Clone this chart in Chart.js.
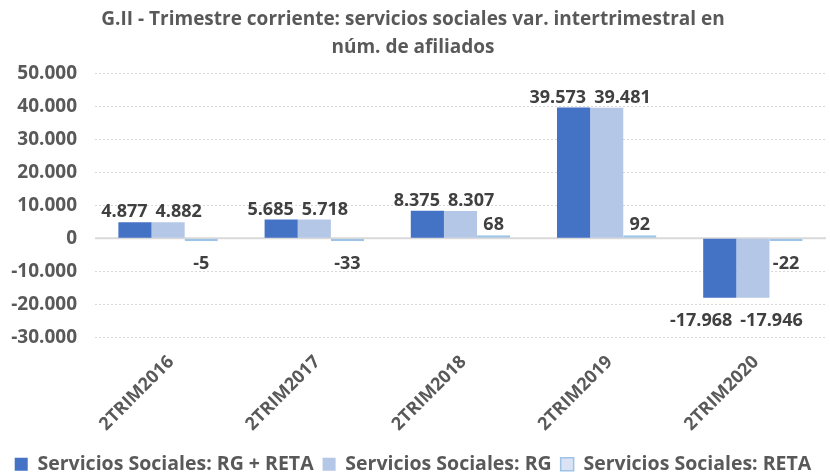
<!DOCTYPE html>
<html lang="es">
<head>
  <meta charset="UTF-8" />
  <title>Servicios sociales var. intertrimestral</title>
  <script src="https://cdn.jsdelivr.net/npm/chart.js"></script>
  <style>
    * { box-sizing: border-box; }
    html, body { margin: 0; padding: 0; background: #ffffff; }
    .chart-box { width: 830px; height: 476px; position: relative; }
  </style>
</head>
<body>
  <div class="chart-box">
    <canvas id="afiliados"></canvas>
  </div>

  <script>
    // Datos
    const trimestres = ['2TRIM2016', '2TRIM2017', '2TRIM2018', '2TRIM2019', '2TRIM2020'];
    const rgReta = [4877, 5685, 8375, 39573, -17968];
    const rg = [4882, 5718, 8307, 39481, -17946];
    const reta = [-5, -33, 68, 92, -22];
    const serieNombres = ['Servicios Sociales: RG + RETA', 'Servicios Sociales: RG', 'Servicios Sociales: RETA'];

    const gris = '#595959';
    const fuente = "'Open Sans', 'DejaVu Sans', sans-serif";

    // formato con punto de miles
    function miles(v) {
      const s = Math.abs(v).toString().replace(/\B(?=(\d{3})+(?!\d))/g, '.');
      return (v < 0 ? '-' : '') + s;
    }

    // etiquetas de valor encima / debajo de cada barra,
    // separadas en horizontal si se pisan (como hace Excel)
    const etiquetas = {
      id: 'etiquetas',
      afterDatasetsDraw(chart) {
        const ctx = chart.ctx;
        const alto = 18;
        ctx.save();
        ctx.font = 'bold 18px ' + fuente;
        ctx.fillStyle = '#404040';
        ctx.textAlign = 'center';
        ctx.textBaseline = 'top';
        const n = chart.data.labels.length;
        for (let j = 0; j < n; j++) {
          const items = [];
          chart.data.datasets.forEach((ds, i) => {
            const bar = chart.getDatasetMeta(i).data[j];
            const v = ds.data[j];
            const txt = miles(v);
            const top = v >= 0 ? bar.y - 1 - alto : bar.y + 14;
            items.push({ txt, x: bar.x, top, w: ctx.measureText(txt).width });
          });
          // separar las que se solapan en vertical y en horizontal
          for (let k = 0; k < items.length - 1; k++) {
            const a = items[k], b = items[k + 1];
            if (Math.abs(a.top - b.top) >= alto) continue;
            const gap = 8;
            const over = (a.x + a.w / 2 + gap) - (b.x - b.w / 2);
            if (over > 0) {
              a.x -= over / 2;
              b.x += over / 2;
            }
          }
          items.forEach(it => ctx.fillText(it.txt, it.x, it.top));
        }
        ctx.restore();
      }
    };

    // linea del cero continua
    const lineaCero = {
      id: 'lineaCero',
      beforeDatasetsDraw(chart) {
        const y = chart.scales.y.getPixelForValue(0);
        const area = chart.chartArea;
        const ctx = chart.ctx;
        ctx.save();
        ctx.strokeStyle = '#d9d9d9';
        ctx.lineWidth = 2;
        ctx.beginPath();
        ctx.moveTo(area.left, y);
        ctx.lineTo(area.right, y);
        ctx.stroke();
        ctx.restore();
      }
    };

    const ctx = document.getElementById('afiliados').getContext('2d');
    new Chart(ctx, {
      type: 'bar',
      data: {
        labels: trimestres,
        datasets: [
          {
            label: serieNombres[0],
            data: rgReta,
            backgroundColor: '#4472c4',
            borderColor: '#4472c4',
            borderWidth: 0
          },
          {
            label: serieNombres[1],
            data: rg,
            backgroundColor: '#b4c7e7',
            borderColor: '#b4c7e7',
            borderWidth: 0
          },
          {
            label: serieNombres[2],
            data: reta,
            backgroundColor: '#dae3f3',
            borderColor: '#9dc3e6',
            borderWidth: 1.5,
            borderSkipped: false,
            minBarLength: 3
          }
        ]
      },
      options: {
        responsive: true,
        maintainAspectRatio: false,
        animation: false,
        categoryPercentage: 0.68,
        barPercentage: 1,
        layout: { padding: { left: 0, right: 4, top: 0, bottom: -8 } },
        plugins: {
          title: {
            display: true,
            text: ['G.II - Trimestre corriente: servicios sociales var. intertrimestral en', 'núm. de afiliados'],
            color: gris,
            font: { family: fuente, size: 19, weight: 'bold', lineHeight: 1.45 },
            padding: { top: 6, bottom: 12 }
          },
          legend: {
            position: 'bottom',
            labels: {
              color: gris,
              font: { family: fuente, size: 19.5, weight: 'bold', lineHeight: 1 },
              boxWidth: 13,
              boxHeight: 13,
              padding: 9
            }
          },
          tooltip: { enabled: false }
        },
        scales: {
          x: {
            grid: { display: false },
            border: { display: false },
            ticks: {
              color: gris,
              font: { family: fuente, size: 18, weight: 'bold' },
              minRotation: 45,
              maxRotation: 45,
              labelOffset: 3,
              padding: 6
            },
            afterFit(scale) { scale.height = 108; }
          },
          y: {
            min: -30000,
            max: 50000,
            border: { display: false, dash: [2, 2] },
            grid: {
              color: (c) => (c.tick && c.tick.value === 0) ? 'rgba(0,0,0,0)' : '#d9d9d9',
              drawTicks: false
            },
            ticks: {
              stepSize: 10000,
              color: gris,
              font: { family: fuente, size: 19, weight: 'bold' },
              padding: 18,
              callback: (v) => miles(v)
            },
            afterFit(scale) { scale.width = 95; }
          }
        }
      },
      plugins: [lineaCero, etiquetas]
    });
  </script>
</body>
</html>
